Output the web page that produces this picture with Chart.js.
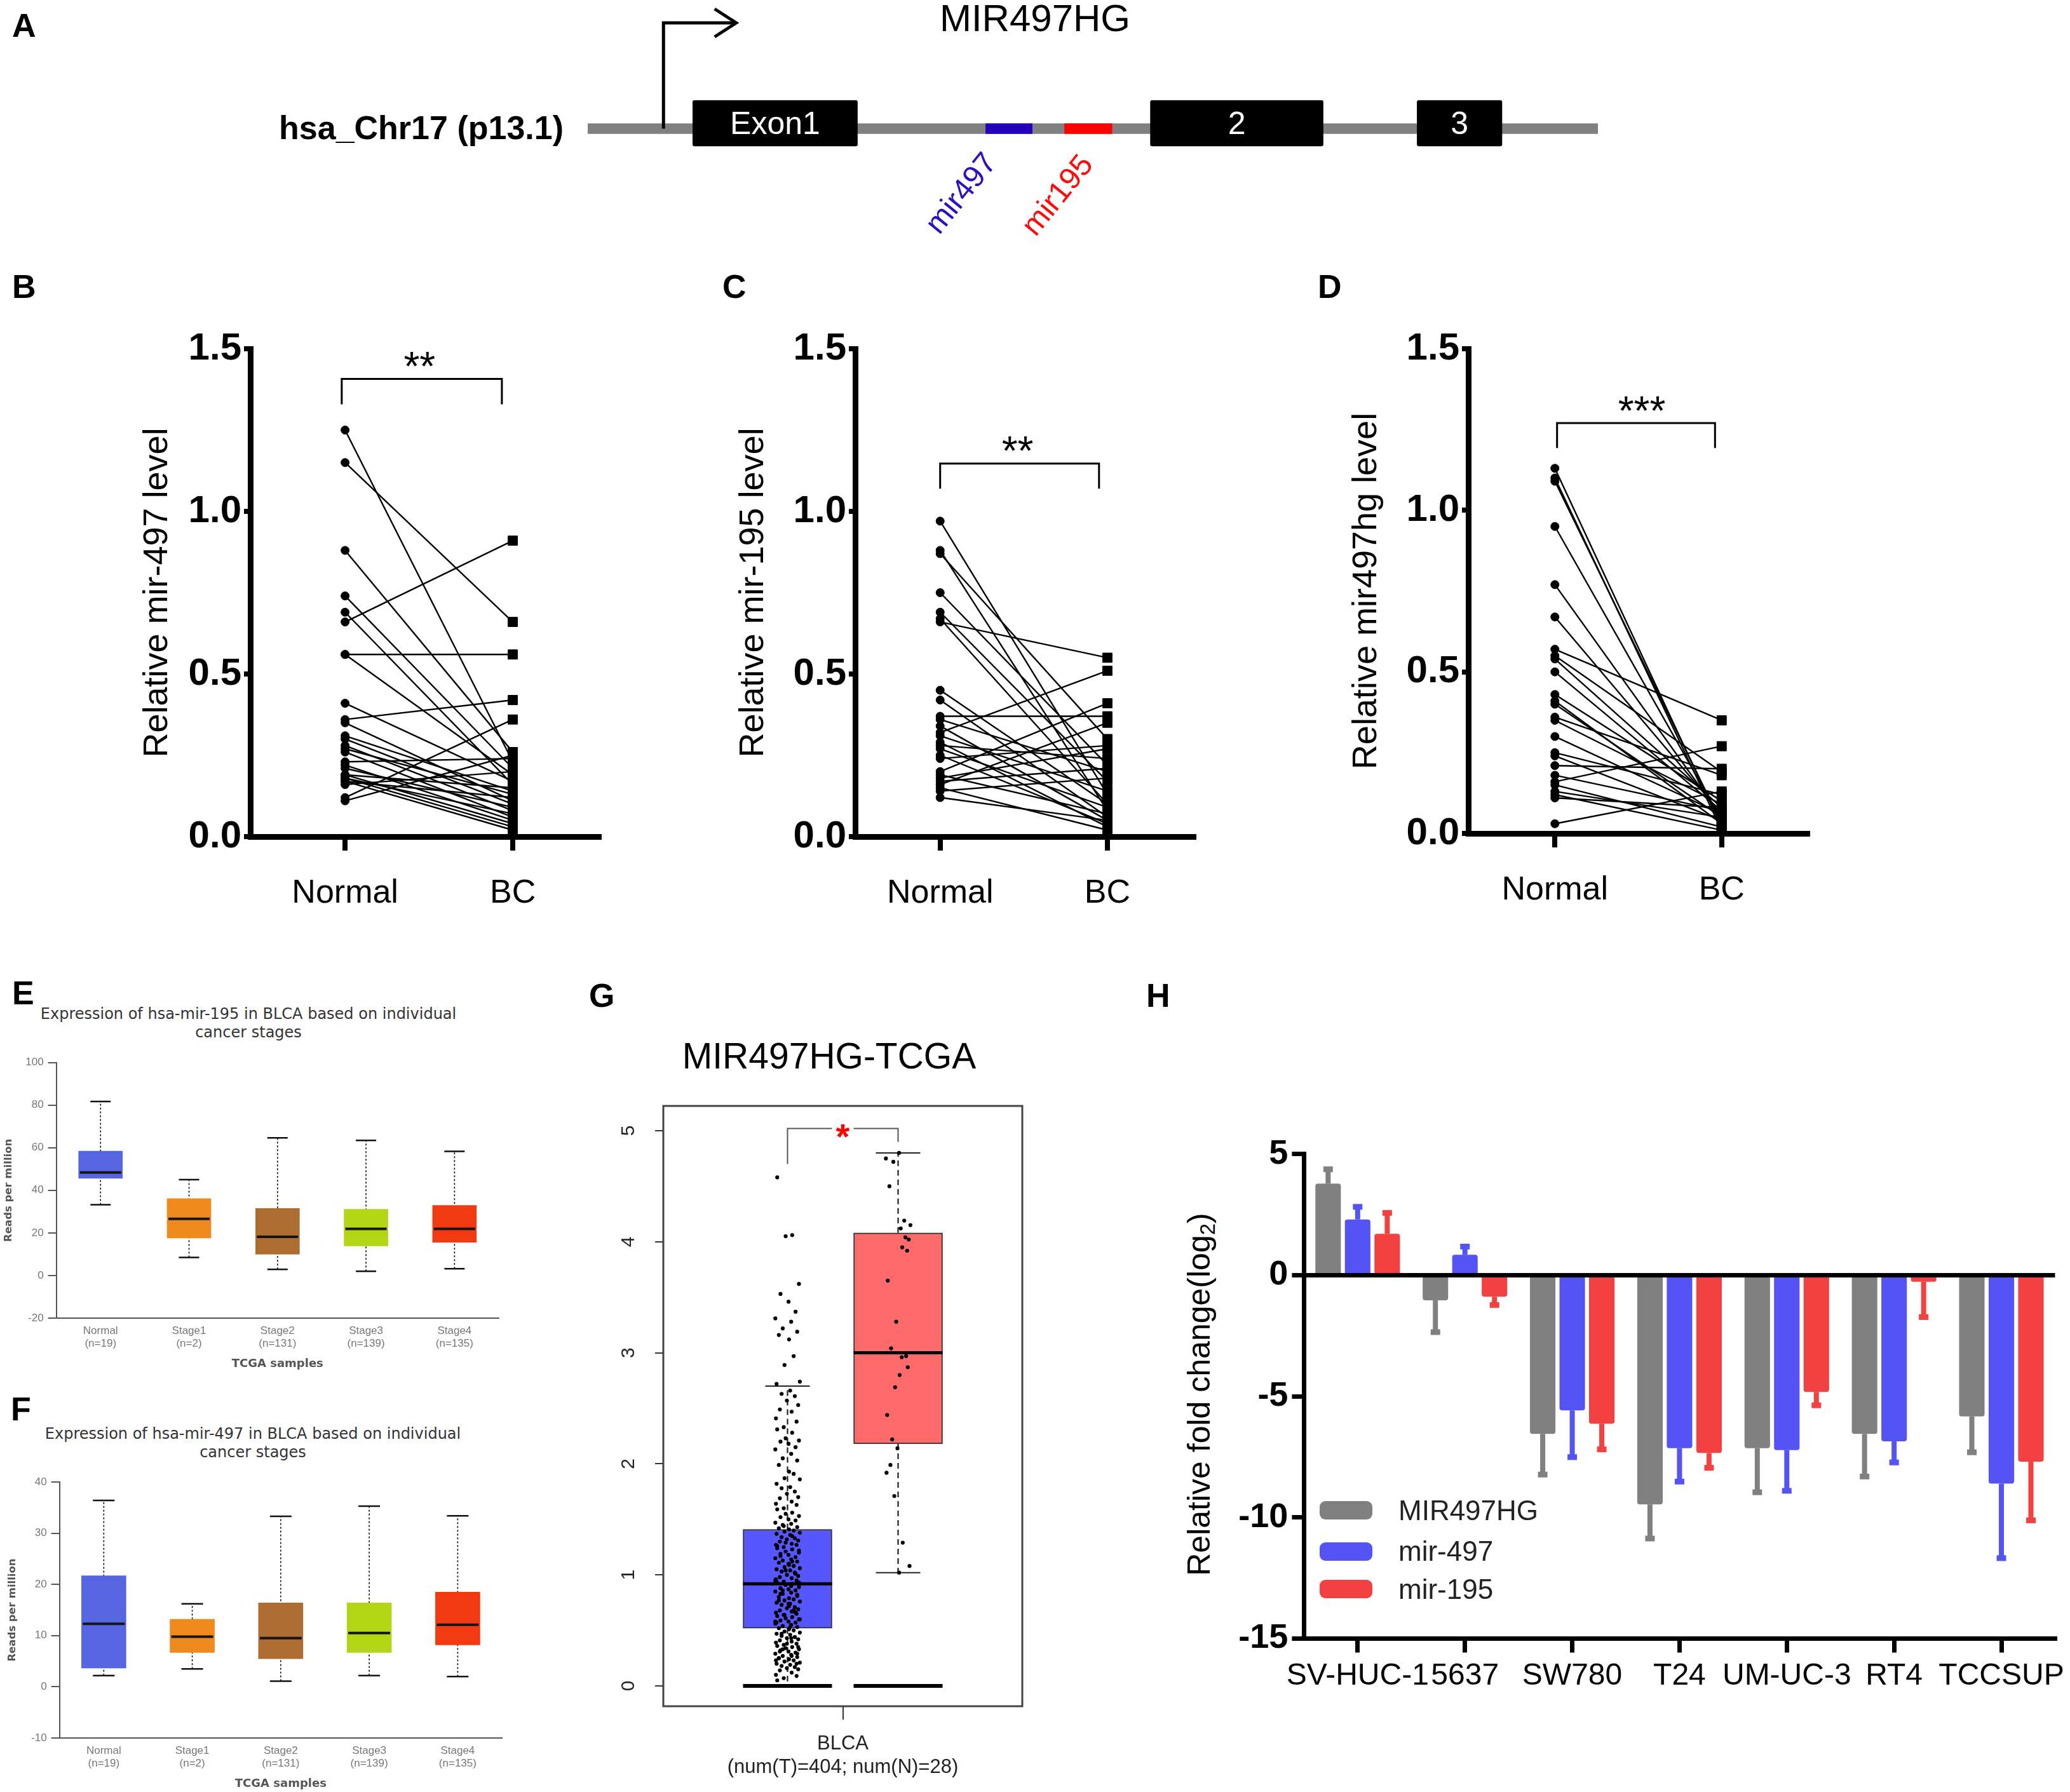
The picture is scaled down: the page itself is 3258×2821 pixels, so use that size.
<!DOCTYPE html>
<html>
<head>
<meta charset="utf-8">
<title>MIR497HG figure</title>
<script src="https://cdn.jsdelivr.net/npm/chart.js@4.4.1/dist/chart.umd.min.js"></script>
<style>
  html, body { margin: 0; padding: 0; background: #fff; }
  body { position: relative; width: 3258px; height: 2821px; overflow: hidden; font-family: "Liberation Sans", Arial, sans-serif; color: #000; }
  .box { position: absolute; }
  .box canvas { display: block; }
  .lbl { position: absolute; white-space: nowrap; line-height: 1; }
  .c { transform: translate(-50%, -50%); }
  .letter { position: absolute; font-weight: bold; font-size: 52px; line-height: 1; }
  .sw { position: absolute; width: 83px; height: 29px; border-radius: 9px; }
</style>
</head>
<body>

<!-- panel letters -->
<div class="letter" style="left:19px;top:14px">A</div>
<div class="letter" style="left:19px;top:425px">B</div>
<div class="letter" style="left:1137px;top:425px">C</div>
<div class="letter" style="left:2074px;top:425px">D</div>
<div class="letter" style="left:19px;top:1537px">E</div>
<div class="letter" style="left:17px;top:2192px">F</div>
<div class="letter" style="left:927px;top:1541px">G</div>
<div class="letter" style="left:1804px;top:1541px">H</div>

<!-- A -->
<div class="lbl" style="left:887px;top:201px;transform:translate(-100%,-50%);font-size:52px;font-weight:bold">hsa_Chr17 (p13.1)</div>
<div class="lbl c" style="left:1629px;top:29px;font-size:60px">MIR497HG</div>
<div class="box" style="left:925px;top:0;width:1590px;height:400px"><canvas id="chartA"></canvas></div>

<!-- B C D -->
<div class="box" style="left:200px;top:480px;width:780px;height:980px"><canvas id="chartB"></canvas></div>
<div class="box" style="left:1140px;top:480px;width:780px;height:980px"><canvas id="chartC"></canvas></div>
<div class="box" style="left:2080px;top:480px;width:800px;height:980px"><canvas id="chartD"></canvas></div>

<!-- E F -->
<div class="lbl c" style="left:391px;top:1611px;font-family:'DejaVu Sans';font-size:24px;line-height:29px;color:#333;text-align:center">Expression of hsa-mir-195 in BLCA based on individual<br>cancer stages</div>
<div class="box" style="left:0;top:1650px;width:790px;height:515px"><canvas id="chartE"></canvas></div>
<div class="lbl c" style="left:398px;top:2272px;font-family:'DejaVu Sans';font-size:24px;line-height:29px;color:#333;text-align:center">Expression of hsa-mir-497 in BLCA based on individual<br>cancer stages</div>
<div class="box" style="left:0;top:2310px;width:795px;height:516px"><canvas id="chartF"></canvas></div>

<!-- G -->
<div class="lbl c" style="left:1305px;top:1662px;font-size:57px">MIR497HG-TCGA</div>
<div class="box" style="left:930px;top:1700px;width:700px;height:1121px"><canvas id="chartG"></canvas></div>

<!-- H -->
<div class="lbl" style="left:1887px;top:2195px;transform:translate(-50%,-50%) rotate(-90deg);font-size:50px">Relative fold change(log<sub style="font-size:33px;vertical-align:-8px;line-height:0">2</sub>)</div>
<div class="box" style="left:1830px;top:1700px;width:1428px;height:1000px"><canvas id="chartH"></canvas></div>
<div class="sw" style="left:2077px;top:2363px;background:#808080"></div>
<div class="sw" style="left:2077px;top:2428px;background:#5454f4"></div>
<div class="sw" style="left:2077px;top:2487px;background:#f34141"></div>
<div class="lbl" style="left:2201px;top:2378px;transform:translateY(-50%);font-size:44px;color:#222">MIR497HG</div>
<div class="lbl" style="left:2201px;top:2442px;transform:translateY(-50%);font-size:44px;color:#222">mir-497</div>
<div class="lbl" style="left:2201px;top:2502px;transform:translateY(-50%);font-size:44px;color:#222">mir-195</div>

<script>
// ---------- data ----------

// A: gene model, positions along the locus (relative units 0-100)
const locus = [0, 100];
const exonLabels = ['Exon1', '2', '3'];
const exonStart = [10.4, 55.7, 82.1];
const exonEnd = [26.7, 72.8, 90.5];
const mirLabels = ['mir497', 'mir195'];
const mirStart = [39.4, 47.2];
const mirEnd = [44.0, 51.9];
const tssPos = 7.5;

// B: mir-497, paired normal / BC
const normal497 = [1.25, 1.15, 0.88, 0.74, 0.69, 0.66, 0.56, 0.56, 0.41, 0.36, 0.35, 0.31, 0.30, 0.28, 0.27, 0.26, 0.23, 0.22, 0.21, 0.19, 0.19, 0.18, 0.18, 0.17, 0.17, 0.16, 0.12, 0.11];
const bc497 = [0.23, 0.66, 0.26, 0.21, 0.16, 0.91, 0.56, 0.19, 0.17, 0.42, 0.11, 0.14, 0.10, 0.08, 0.13, 0.06, 0.24, 0.05, 0.09, 0.15, 0.04, 0.07, 0.03, 0.12, 0.02, 0.20, 0.36, 0.25];

// C: mir-195
const normal195 = [0.97, 0.88, 0.87, 0.75, 0.69, 0.67, 0.66, 0.45, 0.42, 0.37, 0.36, 0.34, 0.32, 0.31, 0.29, 0.28, 0.27, 0.25, 0.24, 0.20, 0.19, 0.18, 0.17, 0.16, 0.15, 0.14, 0.12];
const bc195 = [0.13, 0.08, 0.30, 0.22, 0.17, 0.10, 0.55, 0.10, 0.06, 0.37, 0.20, 0.05, 0.51, 0.14, 0.03, 0.24, 0.09, 0.04, 0.28, 0.41, 0.07, 0.27, 0.21, 0.35, 0.02, 0.18, 0.05];

// D: mir497hg
const normalHG = [1.13, 1.10, 1.09, 0.95, 0.77, 0.67, 0.57, 0.55, 0.54, 0.50, 0.43, 0.41, 0.40, 0.36, 0.35, 0.30, 0.25, 0.24, 0.21, 0.18, 0.16, 0.15, 0.13, 0.12, 0.11, 0.03];
const bcHG = [0.02, 0.01, 0.03, 0.04, 0.05, 0.06, 0.35, 0.19, 0.08, 0.07, 0.10, 0.03, 0.05, 0.18, 0.09, 0.06, 0.12, 0.04, 0.20, 0.07, 0.27, 0.02, 0.05, 0.01, 0.08, 0.13];

// E / F: reads per million by stage
const stageNames = ['Normal', 'Stage1', 'Stage2', 'Stage3', 'Stage4'];
const stageCounts = ['(n=19)', '(n=2)', '(n=131)', '(n=139)', '(n=135)'];
const e195Low = [33.2, 8.5, 2.9, 2.0, 3.2];
const e195Q1 = [45.6, 17.6, 10.0, 13.9, 15.6];
const e195Med = [48.4, 26.6, 18.2, 21.9, 21.9];
const e195Q3 = [58.4, 36.1, 31.5, 31.1, 32.9];
const e195High = [81.7, 45.0, 64.6, 63.4, 58.3];
const f497Low = [2.2, 3.5, 1.1, 2.2, 2.0];
const f497Q1 = [3.65, 6.7, 5.5, 6.7, 8.2];
const f497Med = [12.3, 9.8, 9.5, 10.5, 12.1];
const f497Q3 = [21.7, 13.2, 16.4, 16.4, 18.5];
const f497High = [36.4, 16.2, 33.3, 35.3, 33.4];

// G: MIR497HG expression, TCGA BLCA tumour (T) and normal (N)
const tumorExpr = [
  4.58, 4.06, 4.05, 3.62, 3.53, 3.46, 3.37, 3.31, 3.28, 3.22, 3.19, 3.16, 3.12, 2.97, 2.89,
  2.74, 2.72, 2.66, 2.63, 2.61, 2.57, 2.53, 2.49, 2.47, 2.41, 2.38, 2.33, 2.31, 2.28, 2.23,
  2.21, 2.2, 2.18, 2.15, 2.13, 2.09, 2.05, 2.03, 1.99, 1.93, 1.91, 1.87, 1.86, 1.82, 1.79,
  1.78, 1.75, 1.73, 1.7, 1.69, 1.66, 1.64, 1.63, 1.6, 1.59, 1.56, 1.55, 1.53, 1.52, 1.5,
  1.49, 1.47, 1.46, 1.45, 1.43, 1.42, 1.41, 1.4, 1.39, 1.38, 1.37, 1.36, 1.34, 1.33, 1.32,
  1.31, 1.3, 1.28, 1.27, 1.27, 1.25, 1.24, 1.23, 1.21, 1.2, 1.19, 1.18, 1.16, 1.15, 1.14,
  1.13, 1.12, 1.11, 1.09, 1.08, 1.07, 1.06, 1.05, 1.04, 1.03, 1.02, 1.0, 0.99, 0.98, 0.97,
  0.96, 0.95, 0.94, 0.93, 0.92, 0.91, 0.89, 0.88, 0.87, 0.86, 0.85, 0.84, 0.83, 0.82, 0.8,
  0.79, 0.78, 0.77, 0.76, 0.75, 0.74, 0.73, 0.71, 0.7, 0.69, 0.68, 0.67, 0.66, 0.65, 0.64,
  0.63, 0.62, 0.61, 0.6, 0.59, 0.58, 0.57, 0.56, 0.55, 0.54, 0.53, 0.52, 0.51, 0.5, 0.49,
  0.48, 0.47, 0.46, 0.45, 0.44, 0.43, 0.42, 0.41, 0.4, 0.39, 0.38, 0.37, 0.36, 0.35, 0.34,
  0.33, 0.32, 0.31, 0.3, 0.29, 0.28, 0.27, 0.26, 0.25, 0.24, 0.23, 0.22, 0.21, 0.2, 0.19,
  0.18, 0.17, 0.16, 0.15, 0.14, 0.12, 0.1, 0.09, 0.07, 0.05,
  1.35, 1.29, 1.22, 1.17, 1.1, 1.01, 0.95, 0.9, 0.86, 0.81, 0.77, 0.72, 0.68, 0.64, 0.6,
  0.57, 0.53, 0.47, 0.44, 0.38, 0.35, 0.31, 0.27, 0.23, 0.2, 1.44, 1.26, 1.12, 1.04, 0.93,
  0.83, 0.74, 0.66, 0.58, 0.43, 0.33, 0.29, 0.25,
  0, 0, 0, 0, 0, 0, 0, 0, 0, 0
];
const normalExpr = [4.80, 4.75, 4.72, 4.50, 4.19, 4.15, 4.12, 4.04, 4.02, 3.95, 3.92, 3.65, 3.28, 3.04, 2.97, 2.96, 2.87, 2.80, 2.69, 2.44, 2.22, 2.14, 1.99, 1.92, 1.71, 1.29, 1.08, 1.02];
const gGroups = ['T', 'N'];
const gLow = [0, 1.02];
const gQ1 = [0.52, 2.18];
const gMedian = [0.92, 3.0];
const gQ3 = [1.41, 4.08];
const gHigh = [2.7, 4.8];

// H: relative fold change (log2) per cell line
const cellLines = ['SV-HUC-1', '5637', 'SW780', 'T24', 'UM-UC-3', 'RT4', 'TCCSUP'];
const foldMIR497HG = [3.78, -1.04, -6.55, -9.46, -7.14, -6.55, -5.83];
const errMIR497HG = [0.59, 1.31, 1.68, 1.41, 1.82, 1.76, 1.48];
const foldMir497 = [2.30, 0.84, -5.58, -7.14, -7.22, -6.86, -8.60];
const errMir497 = [0.52, 0.34, 1.93, 1.38, 1.68, 0.87, 3.08];
const foldMir195 = [1.71, -0.89, -6.13, -7.34, -4.82, -0.27, -7.70];
const errMir195 = [0.86, 0.34, 1.06, 0.61, 0.55, 1.46, 2.42];

// ---------- layout / style ----------
const ARIAL = '"Liberation Sans", Arial, sans-serif';
const NARROW = '"Liberation Sans Narrow", "Liberation Sans", Arial, sans-serif';
const DEJAVU = '"DejaVu Sans", sans-serif';

Chart.defaults.font.family = ARIAL;
Chart.defaults.color = '#000';
Chart.defaults.animation = false;

const base = { responsive: true, maintainAspectRatio: false, devicePixelRatio: 1, animation: false };
const noLegend = { legend: { display: false }, tooltip: { enabled: false } };

// A
const LINE_Y = -0.0125, EXON_Y = 0.03, ARROW_Y = 0.82, ARROW_LEN = 7.2;
const mirColors = ['#2400bb', '#ff0000'];
const mirTextColors = ['#2a10c4', '#ff0a0a'];
const mirLabelShift = [[-74, 103], [-47, 106]];

// G
const G_POS = [0.346, 0.654];
const G_BOX = 140, G_CAP = 70, G_JIT = 0.035;
const jitterPattern = [-0.82, 0.37, -0.15, 0.91, -0.56, 0.08, 0.64, -0.97, 0.29, -0.38, 0.77, -0.69, 0.12, 0.49, -0.24, 0.98, -0.87, 0.21, -0.47, 0.58, -0.05, 0.85, -0.61, 0.33, -0.92, 0.72, -0.3];

// ---------- panel A ----------
const geneLabels = {
  id: 'geneLabels',
  afterDatasetsDraw(chart) {
    const { ctx, scales: { x, y } } = chart;
    ctx.save();
    ctx.fillStyle = '#fff';
    ctx.font = '50px ' + ARIAL;
    ctx.textAlign = 'center';
    ctx.textBaseline = 'middle';
    exonLabels.forEach((t, i) => {
      ctx.fillText(t, x.getPixelForValue((exonStart[i] + exonEnd[i]) / 2), y.getPixelForValue(EXON_Y) + 3);
    });
    // rotated mir labels below the line
    ctx.font = '48px ' + ARIAL;
    mirLabels.forEach((t, i) => {
      ctx.save();
      ctx.translate(x.getPixelForValue((mirStart[i] + mirEnd[i]) / 2) + mirLabelShift[i][0], y.getPixelForValue(LINE_Y) + mirLabelShift[i][1]);
      ctx.rotate(-51 * Math.PI / 180);
      ctx.fillStyle = mirTextColors[i];
      ctx.fillText(t, 0, 0);
      ctx.restore();
    });
    // transcription start arrow
    const x0 = x.getPixelForValue(tssPos), x1 = x.getPixelForValue(tssPos + ARROW_LEN);
    const yb = y.getPixelForValue(LINE_Y), yt = y.getPixelForValue(ARROW_Y);
    ctx.strokeStyle = '#000';
    ctx.lineWidth = 5;
    ctx.beginPath();
    ctx.moveTo(x0, yb);
    ctx.lineTo(x0, yt);
    ctx.lineTo(x1 - 3, yt);
    ctx.stroke();
    ctx.beginPath();
    ctx.moveTo(x1 - 34, yt - 22);
    ctx.lineTo(x1, yt);
    ctx.lineTo(x1 - 34, yt + 22);
    ctx.stroke();
    ctx.restore();
  }
};

new Chart(document.getElementById('chartA'), {
  type: 'bar',
  data: {
    datasets: [
      { data: exonStart.map((s, i) => ({ y: EXON_Y, x: [s, exonEnd[i]] })), backgroundColor: '#000', barThickness: 72, borderRadius: 3, borderSkipped: false, grouped: false, order: 1 },
      { data: mirStart.map((s, i) => ({ y: LINE_Y, x: [s, mirEnd[i]] })), backgroundColor: mirColors, barThickness: 16, grouped: false, order: 2 },
      { data: [{ y: LINE_Y, x: locus }], backgroundColor: '#808080', barThickness: 16, grouped: false, order: 3 }
    ]
  },
  options: {
    ...base,
    indexAxis: 'y',
    layout: { padding: 0 },
    plugins: noLegend,
    scales: {
      x: { type: 'linear', min: 0, max: 100, display: false },
      y: { type: 'linear', min: -1, max: 1, offset: false, display: false }
    }
  },
  plugins: [geneLabels]
});

// ---------- panels B, C, D ----------
const bracketPlugin = {
  id: 'bracket',
  afterDatasetsDraw(chart, args, o) {
    const { ctx, scales: { x, y } } = chart;
    const x1 = x.getPixelForValue(o.x1), x2 = x.getPixelForValue(o.x2);
    const yt = y.getPixelForValue(o.y), yl = y.getPixelForValue(o.yLeg);
    ctx.save();
    ctx.strokeStyle = '#000';
    ctx.lineWidth = 3;
    ctx.beginPath();
    ctx.moveTo(x1, yl);
    ctx.lineTo(x1, yt);
    ctx.lineTo(x2, yt);
    ctx.lineTo(x2, yl);
    ctx.stroke();
    // stars sit on the bracket, baseline at ty
    ctx.fillStyle = '#000';
    ctx.font = '64px ' + ARIAL;
    ctx.textAlign = 'center';
    ctx.textBaseline = 'alphabetic';
    ctx.fillText(o.text, x.getPixelForValue(o.tx), y.getPixelForValue(o.ty));
    ctx.restore();
  }
};

function pairedChart(id, normal, bc, cfg) {
  const datasets = normal.map((n, i) => ({
    data: [{ x: 1, y: n }, { x: 2, y: bc[i] }],
    borderColor: '#000',
    borderWidth: 2.4,
    tension: 0,
    pointStyle: ['circle', 'rect'],
    pointRadius: [6.5, 10.5],
    pointBackgroundColor: '#000',
    pointBorderColor: '#000',
    pointBorderWidth: 1,
    clip: false
  }));
  return new Chart(document.getElementById(id), {
    type: 'line',
    data: { datasets },
    options: {
      ...base,
      layout: { padding: { top: cfg.padTop, right: cfg.padRight, left: 0, bottom: 0 } },
      plugins: { ...noLegend, bracket: cfg.bracket },
      scales: {
        x: {
          type: 'linear', min: cfg.xMin, max: 2.515,
          afterBuildTicks: s => { s.ticks = [{ value: 1 }, { value: 2 }]; },
          afterFit: s => { s.height = cfg.xHeight; },
          ticks: { callback: v => (v === 1 ? 'Normal' : 'BC'), font: { size: 52 }, color: '#000', padding: 36, maxRotation: 0, autoSkip: false },
          grid: { drawOnChartArea: false, tickLength: 22, lineWidth: 8, color: '#000' },
          border: { color: '#000', width: 9 }
        },
        y: {
          min: 0, max: 1.5,
          afterFit: s => { s.width = cfg.yWidth; },
          ticks: { stepSize: 0.5, callback: v => v.toFixed(1), font: { size: 60, weight: 'bold' }, color: '#000', padding: 4 },
          grid: { drawOnChartArea: false, tickLength: 10, lineWidth: 8, color: '#000' },
          border: { color: '#000', width: 9 },
          title: { display: true, text: cfg.title, font: { size: 54 }, color: '#000', padding: { top: cfg.titlePad, bottom: 0 } }
        }
      }
    },
    plugins: [bracketPlugin]
  });
}

pairedChart('chartB', normal497, bc497, {
  title: 'Relative mir-497 level', xMin: 0.435, yWidth: 194, padTop: 69, padRight: 37, xHeight: 143, titlePad: 15.6,
  bracket: { x1: 0.98, x2: 1.935, y: 1.407, yLeg: 1.329, text: '**', tx: 1.444, ty: 1.402 }
});
pairedChart('chartC', normal195, bc195, {
  title: 'Relative mir-195 level', xMin: 0.492, yWidth: 206, padTop: 69, padRight: 41.5, xHeight: 143, titlePad: 13.6,
  bracket: { x1: 1.0, x2: 1.95, y: 1.147, yLeg: 1.07, text: '**', tx: 1.463, ty: 1.142 }
});
pairedChart('chartD', normalHG, bcHG, {
  title: 'Relative mir497hg level', xMin: 0.481, yWidth: 231, padTop: 69, padRight: 35, xHeight: 148, titlePad: 38.4,
  bracket: { x1: 1.013, x2: 1.96, y: 1.27, yLeg: 1.193, text: '***', tx: 1.521, ty: 1.265 }
});

// ---------- panels E, F ----------
const stageColors = ['#5566e0', '#ef8a1e', '#ae6d30', '#b2d616', '#f23a12'];

const boxWhiskers = {
  id: 'boxWhiskers',
  beforeDatasetsDraw(chart, args, o) {
    const { ctx, scales: { x, y } } = chart;
    ctx.save();
    ctx.strokeStyle = '#111';
    o.low.forEach((lo, i) => {
      const cx = x.getPixelForValue(i);
      const yl = y.getPixelForValue(lo), yh = y.getPixelForValue(o.high[i]);
      ctx.setLineDash([3, 3]);
      ctx.lineWidth = 1.6;
      ctx.beginPath();
      ctx.moveTo(cx, yl);
      ctx.lineTo(cx, yh);
      ctx.stroke();
      ctx.setLineDash([]);
      ctx.lineWidth = 2.5;
      ctx.beginPath();
      ctx.moveTo(cx - o.cap / 2, yl);
      ctx.lineTo(cx + o.cap / 2, yl);
      ctx.moveTo(cx - o.cap / 2, yh);
      ctx.lineTo(cx + o.cap / 2, yh);
      ctx.stroke();
    });
    ctx.restore();
  },
  afterDatasetsDraw(chart, args, o) {
    const { ctx, scales: { x, y } } = chart;
    ctx.save();
    ctx.strokeStyle = '#151515';
    ctx.lineWidth = 4;
    o.median.forEach((m, i) => {
      const cx = x.getPixelForValue(i), py = y.getPixelForValue(m);
      ctx.beginPath();
      ctx.moveTo(cx - o.box / 2 + 2, py);
      ctx.lineTo(cx + o.box / 2 - 2, py);
      ctx.stroke();
    });
    ctx.restore();
  }
};

function stageChart(id, low, q1, med, q3, high, cfg) {
  return new Chart(document.getElementById(id), {
    type: 'bar',
    data: {
      labels: stageNames.map((s, i) => [s, stageCounts[i]]),
      datasets: [{ data: q1.map((v, i) => [v, q3[i]]), backgroundColor: stageColors, barThickness: cfg.box, borderWidth: 0 }]
    },
    options: {
      ...base,
      layout: { padding: { top: cfg.padTop, right: cfg.padRight, left: 0, bottom: 0 } },
      plugins: { ...noLegend, boxWhiskers: { low, high, median: med, cap: cfg.cap, box: cfg.box } },
      scales: {
        x: {
          afterFit: s => { s.height = 90; },
          ticks: { font: { size: 17, family: NARROW }, color: '#777', padding: 10, maxRotation: 0, autoSkip: false },
          grid: { drawOnChartArea: false, drawTicks: false },
          border: { color: '#555', width: 2 },
          title: { display: true, text: 'TCGA samples', font: { size: 18, weight: 'bold', family: DEJAVU }, color: '#555', padding: { top: 0, bottom: 7 } }
        },
        y: {
          min: cfg.min, max: cfg.max,
          afterFit: s => { s.width = cfg.yWidth; },
          ticks: { stepSize: cfg.step, font: { size: 17, family: NARROW }, color: '#777', padding: 7 },
          grid: { drawOnChartArea: false, tickLength: 13, lineWidth: 2, color: '#555' },
          border: { color: '#555', width: 2 },
          title: { display: true, text: 'Reads per million', font: { size: 16.5, weight: 'bold', family: DEJAVU }, color: '#555', padding: { top: cfg.titlePad, bottom: 0 } }
        }
      }
    },
    plugins: [boxWhiskers]
  });
}

stageChart('chartE', e195Low, e195Q1, e195Med, e195Q3, e195High,
  { min: -20, max: 100, step: 20, yWidth: 88.6, padTop: 22.6, padRight: 5, titlePad: 4, box: 69, cap: 32 });
stageChart('chartF', f497Low, f497Q1, f497Med, f497Q3, f497High,
  { min: -10, max: 40, step: 10, yWidth: 93.7, padTop: 23, padRight: 5, titlePad: 10, box: 70, cap: 34 });

// ---------- panel G ----------
const gDecor = {
  id: 'gDecor',
  beforeDatasetsDraw(chart) {
    const { ctx, scales: { x, y } } = chart;
    ctx.save();
    ctx.strokeStyle = '#222';
    gGroups.forEach((g, i) => {
      const cx = x.getPixelForValue(G_POS[i]);
      ctx.setLineDash([9, 6]);
      ctx.lineWidth = 2.2;
      ctx.beginPath();
      ctx.moveTo(cx, y.getPixelForValue(gQ3[i]));
      ctx.lineTo(cx, y.getPixelForValue(gHigh[i]));
      ctx.moveTo(cx, y.getPixelForValue(gQ1[i]));
      ctx.lineTo(cx, y.getPixelForValue(gLow[i]));
      ctx.stroke();
      ctx.setLineDash([]);
      ctx.lineWidth = 2;
      [gHigh[i], gLow[i]].forEach(v => {
        const py = y.getPixelForValue(v);
        ctx.beginPath();
        ctx.moveTo(cx - G_CAP / 2, py);
        ctx.lineTo(cx + G_CAP / 2, py);
        ctx.stroke();
      });
    });
    ctx.restore();
  },
  afterDatasetsDraw(chart) {
    const { ctx, chartArea: a, scales: { x, y } } = chart;
    ctx.save();
    ctx.strokeStyle = '#000';
    gGroups.forEach((g, i) => {
      const cx = x.getPixelForValue(G_POS[i]);
      ctx.lineWidth = 5;
      ctx.beginPath();
      ctx.moveTo(cx - G_BOX / 2, y.getPixelForValue(gMedian[i]));
      ctx.lineTo(cx + G_BOX / 2, y.getPixelForValue(gMedian[i]));
      ctx.stroke();
      ctx.lineWidth = 6;
      ctx.beginPath();
      ctx.moveTo(cx - G_BOX / 2, y.getPixelForValue(0));
      ctx.lineTo(cx + G_BOX / 2, y.getPixelForValue(0));
      ctx.stroke();
    });
    // frame
    ctx.strokeStyle = '#444';
    ctx.lineWidth = 3;
    ctx.strokeRect(a.left, a.top, a.right - a.left, a.bottom - a.top);
    // rotated y tick labels, R style
    ctx.fillStyle = '#222';
    ctx.font = '30px ' + ARIAL;
    ctx.textAlign = 'center';
    ctx.textBaseline = 'middle';
    y.ticks.forEach(t => {
      ctx.save();
      ctx.translate(a.left - 54, y.getPixelForValue(t.value));
      ctx.rotate(-Math.PI / 2);
      ctx.fillText(String(t.value), 0, 0);
      ctx.restore();
    });
    // significance bracket
    const xl = x.getPixelForValue(G_POS[0]), xr = x.getPixelForValue(G_POS[1]);
    const xm = x.getPixelForValue(0.5);
    const yt = y.getPixelForValue(5.02);
    ctx.strokeStyle = '#555';
    ctx.lineWidth = 2;
    ctx.beginPath();
    ctx.moveTo(xl, y.getPixelForValue(4.7));
    ctx.lineTo(xl, yt);
    ctx.lineTo(xm - 17, yt);
    ctx.moveTo(xm + 17, yt);
    ctx.lineTo(xr, yt);
    ctx.lineTo(xr, y.getPixelForValue(4.9));
    ctx.stroke();
    ctx.fillStyle = '#ff0000';
    ctx.font = 'bold 56px ' + ARIAL;
    ctx.textBaseline = 'alphabetic';
    ctx.fillText('*', xm, yt + 32);
    ctx.restore();
  }
};

new Chart(document.getElementById('chartG'), {
  type: 'bar',
  data: {
    datasets: [
      { type: 'scatter', data: tumorExpr.map((v, i) => ({ x: G_POS[0] + jitterPattern[i % jitterPattern.length] * G_JIT, y: v })),
        pointRadius: 3.1, pointBackgroundColor: '#000', pointBorderWidth: 0, order: 0 },
      { type: 'scatter', data: normalExpr.map((v, i) => ({ x: G_POS[1] + jitterPattern[(i * 2 + 5) % jitterPattern.length] * G_JIT, y: v })),
        pointRadius: 3.1, pointBackgroundColor: '#000', pointBorderWidth: 0, order: 0 },
      { data: [{ x: G_POS[0], y: [gQ1[0], gQ3[0]] }], backgroundColor: '#5757ff', borderColor: '#333', borderWidth: 2, borderSkipped: false, barThickness: G_BOX, grouped: false, order: 1 },
      { data: [{ x: G_POS[1], y: [gQ1[1], gQ3[1]] }], backgroundColor: '#ff6b6b', borderColor: '#333', borderWidth: 2, borderSkipped: false, barThickness: G_BOX, grouped: false, order: 1 }
    ]
  },
  options: {
    ...base,
    layout: { padding: { top: 41, right: 21, left: 0, bottom: 0 } },
    plugins: noLegend,
    scales: {
      x: {
        type: 'linear', min: 0, max: 1, offset: false,
        afterBuildTicks: s => { s.ticks = [{ value: 0.5 }]; },
        afterFit: s => { s.height = 135; },
        ticks: { callback: () => ['BLCA', '(num(T)=404; num(N)=28)'], font: { size: 31 }, color: '#222', padding: 20, maxRotation: 0 },
        grid: { drawOnChartArea: false, tickLength: 21, lineWidth: 2, color: '#333', offset: false },
        border: { display: false }
      },
      y: {
        type: 'linear', min: -0.183, max: 5.223,
        afterFit: s => { s.width = 114; },
        ticks: { stepSize: 1, includeBounds: false, display: false },
        grid: { drawOnChartArea: false, tickLength: 13, lineWidth: 2, color: '#333' },
        border: { display: false }
      }
    }
  },
  plugins: [gDecor]
});

// ---------- panel H ----------
const errorBars = {
  id: 'errorBars',
  afterDatasetsDraw(chart, args, o) {
    const { ctx, scales: { y } } = chart;
    ctx.save();
    chart.data.datasets.forEach((ds, i) => {
      chart.getDatasetMeta(i).data.forEach((bar, j) => {
        const v = ds.data[j];
        const end = y.getPixelForValue(v + Math.sign(v) * o.errors[i][j]);
        ctx.strokeStyle = ds.backgroundColor;
        ctx.fillStyle = ds.backgroundColor;
        ctx.lineWidth = 8;
        ctx.beginPath();
        ctx.moveTo(bar.x, bar.y);
        ctx.lineTo(bar.x, end);
        ctx.stroke();
        ctx.fillRect(bar.x - 7.5, end - 4.5, 15, 9);
      });
    });
    ctx.restore();
  }
};

new Chart(document.getElementById('chartH'), {
  type: 'bar',
  data: {
    labels: cellLines,
    datasets: [
      { label: 'MIR497HG', data: foldMIR497HG, backgroundColor: '#808080' },
      { label: 'mir-497', data: foldMir497, backgroundColor: '#5454f4' },
      { label: 'mir-195', data: foldMir195, backgroundColor: '#f34141' }
    ]
  },
  options: {
    ...base,
    datasets: { bar: { categoryPercentage: 0.826, barPercentage: 0.863, borderRadius: 4, borderSkipped: 'start' } },
    layout: { padding: { top: 116.7, right: 18.3, left: 0, bottom: 0 } },
    plugins: { ...noLegend, errorBars: { errors: [errMIR497HG, errMir497, errMir195] } },
    scales: {
      x: {
        afterFit: s => { s.height = 120.5; },
        ticks: { font: { size: 48 }, color: '#000', padding: 8, autoSkip: false, maxRotation: 0, minRotation: 0 },
        grid: { drawOnChartArea: false, offset: false, tickLength: 22, lineWidth: 7, color: '#000' },
        border: { color: '#000', width: 7 }
      },
      y: {
        min: -15, max: 5, z: 1,
        afterFit: s => { s.width = 222.4; },
        ticks: { stepSize: 5, font: { size: 54, weight: 'bold' }, color: '#000', padding: 6 },
        grid: { color: c => (c.tick && c.tick.value === 0 ? '#000' : 'rgba(0,0,0,0)'), tickColor: '#000', lineWidth: 7, tickLength: 19 },
        border: { color: '#000', width: 7 }
      }
    }
  },
  plugins: [errorBars]
});
</script>
</body>
</html>
